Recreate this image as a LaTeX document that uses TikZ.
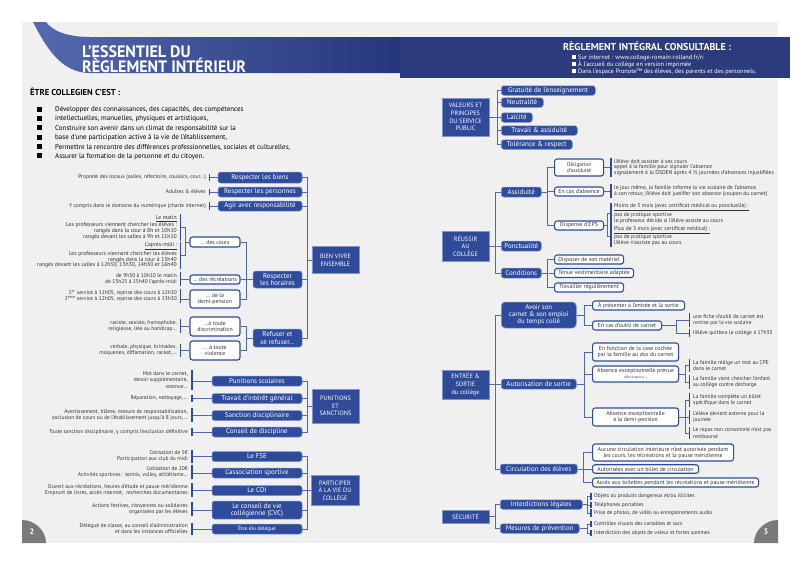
\documentclass[tikz,border=0pt]{standalone}
\usepackage{fontspec}
\setmainfont{PT Sans}
\newfontfamily\condf[FakeStretch=0.97]{PT Sans}
\usetikzlibrary{calc}
\definecolor{pagebg}{HTML}{F0F0F0}
\definecolor{hubblue}{HTML}{2E4A98}
\definecolor{nodeblue}{HTML}{2F4C9C}
\definecolor{hubedge}{HTML}{8194CF}
\definecolor{linkblue}{HTML}{5068B0}
\definecolor{txt}{HTML}{333333}
\definecolor{navy}{HTML}{2B3B7C}
\definecolor{ribL}{HTML}{5569AE}
\definecolor{ribR}{HTML}{26367A}
\definecolor{pgrey}{HTML}{7A7A7A}
\newcommand\fsz[2]{\fontsize{#1}{#2}\selectfont}
\newcommand\lnk[3]{\draw[conn] (#1) -| (#2 |- #3) -- (#3);}
\newcommand\lbar[2]{\draw[barl] (#1.north -| #2) -- (#1.south -| #2);}
\newcommand\llnk[4]{\draw[conn] (#1) -| (#2 |- #3) -- (#3 -| #4);}
\newcommand\slnk[2]{\draw[conn] (#1) -- (#1 -| #2);}
\tikzset{
  hub/.style={rectangle, fill=hubblue, draw=hubedge, line width=0.6pt, text=white, align=center, inner sep=0pt, font=\fsz{6.3}{7.6}},
  bn/.style={rectangle, rounded corners=2.5pt, fill=nodeblue, draw=hubedge, line width=0.5pt, text=white, align=center, inner sep=0pt, font=\fsz{7}{7.3}, minimum height=10},
  wb/.style={rectangle, rounded corners=2.5pt, fill=white, draw=nodeblue, line width=1.1pt, text=txt, align=center, inner sep=0pt, font=\fsz{5.8}{6.3}, minimum height=9},
  lr/.style={anchor=east, align=right, inner xsep=0pt, inner ysep=0.8pt, text=txt, font=\fsz{5.5}{6}},
  ll/.style={anchor=west, align=left, inner xsep=0pt, inner ysep=0.8pt, text=txt, font=\fsz{5.5}{6.3}},
  conn/.style={draw=linkblue, line width=0.7pt},
  barl/.style={draw=nodeblue, line width=1.3pt},
  bul/.style={anchor=base west, inner sep=0pt, font=\fsz{7}{7}},
}
\begin{document}
\begin{tikzpicture}[x=1pt,y=-1pt]
\useasboundingbox (0,0) rectangle (800,566);
\fill[white] (0,0) rectangle (800,566);
\fill[pagebg] (22,22) rectangle (778,543);
% header
\shade[left color=ribL, right color=ribR] (33,22) .. controls (45,45) and (60,73) .. (90,73) -- (400,73) -- (400,37) -- (90,37) .. controls (65,37) and (52,30) .. (46,22) -- cycle;
\fill[navy] (400,37) rectangle (790,78);
\node[anchor=base west, text=white, font=\condf\bfseries\fsz{16.5}{16}, inner sep=0pt] (t1) at (82,57) {L’ESSENTIEL DU};
\node[anchor=base west, text=white, font=\condf\bfseries\fsz{16.5}{16}, inner sep=0pt] (t2) at (82,72.5) {RÈGLEMENT INTÉRIEUR};
\node[anchor=base west, text=white, font=\bfseries\fsz{10}{10}, inner sep=0pt] (rh) at (563,50) {RÈGLEMENT INTÉGRAL CONSULTABLE :};
\fill[white] (572,54.7) rectangle (576,58.7);
\fill[white] (572,61.7) rectangle (576,65.7);
\fill[white] (572,69) rectangle (576,73);
\node[bul, text=white, font=\fsz{6.3}{7}] (rb1) at (578,59) {Sur internet : www.college-romain-rolland.fr/ri};
\node[bul, text=white, font=\fsz{6.3}{7}] (rb2) at (578,66) {À l’accueil du collège en version imprimée};
\node[bul, text=white, font=\fsz{6.3}{7}] (rb3) at (578,73.2) {Dans l’espace Pronote™ des élèves, des parents et des personnels.};
% etre collegien
\node[anchor=base west, font=\bfseries\fsz{8.6}{9}, inner sep=0pt] (ec) at (30,95.5) {ÊTRE COLLEGIEN C’EST :};
\foreach \yy in {109.3,118.3,127.7,137.3,146.7,155.7} {\fill[black] (37,\yy-2.4) rectangle (41.8,\yy+2.4);}
\node[bul] (bt1) at (55,111.7) {Développer des connaissances, des capacités, des compétences};
\node[bul] (bt2) at (55,120.7) {intellectuelles, manuelles, physiques et artistiques,};
\node[bul] (bt3) at (55,130.1) {Construire son avenir dans un climat de responsabilité sur la};
\node[bul] (bt4) at (55,139.7) {base d’une participation active à la vie de l’établissement,};
\node[bul] (bt5) at (55,149.1) {Permettre la rencontre des différences professionnelles, sociales et culturelles,};
\node[bul] (bt6) at (55,158.1) {Assurer la formation de la personne et du citoyen.};
% ---------- LEFT PAGE ----------
\coordinate (bL) at (307,0);
\coordinate (bH) at (246,0);
\coordinate (barA) at (209.5,0);
\coordinate (barB) at (180.5,0);
\coordinate (busB) at (185.5,0);
\coordinate (barC) at (192,0);
\node[hub, minimum width=47, minimum height=27] (bve) at (335.5,260) {BIEN VIVRE\\ENSEMBLE};
\node[hub, minimum width=47, minimum height=34] (pun) at (335.5,406) {PUNITIONS\\ET\\SANCTIONS};
\node[hub, minimum width=48, minimum height=30] (par) at (335,490.5) {PARTICIPER\\À LA VIE DU\\COLLÈGE};
\node[bn, minimum width=84, minimum height=11] (rlb) at (260,177.5) {Respecter les biens};
\node[bn, minimum width=84] (rlp) at (260,192) {Respecter les personnes};
\node[bn, minimum width=84] (aar) at (260,206) {Agir avec responsabilité};
\node[bn, minimum width=49, minimum height=17] (rlh) at (277.5,279.5) {Respecter\\les horaires};
\node[bn, minimum width=49, minimum height=18] (ref) at (277.5,338) {Refuser et\\se refuser…};
\node[bn, minimum width=90] (pn1) at (257,381) {Punitions scolaires};
\node[bn, minimum width=90] (pn2) at (257,398.5) {Travail d’intérêt général};
\node[bn, minimum width=90] (pn3) at (257,415.5) {Sanction disciplinaire};
\node[bn, minimum width=90] (pn4) at (257,432) {Conseil de discipline};
\node[bn, minimum width=90] (pa1) at (257,456.5) {Le FSE};
\node[bn, minimum width=90] (pa2) at (257,473) {L’association sportive};
\node[bn, minimum width=90] (pa3) at (257,490.5) {Le CDI};
\node[bn, minimum width=90, minimum height=18] (pa4) at (257,510) {Le conseil de vie\\collégienne (CVC)};
\node[bn, minimum width=90, font=\fsz{5.4}{5.5}] (pa5) at (257,529) {Être élu délégué};
\node[wb, minimum width=50, minimum height=10] (wco) at (215,242) {… des cours};
\node[wb, minimum width=50] (wre) at (215,279.5) {… des récréations};
\node[wb, minimum width=50, minimum height=18] (wdp) at (215,299) {… de la\\demi-pension};
\node[wb, minimum width=50, minimum height=19] (wdi) at (215,326.5) {…à toute\\discrimination};
\node[wb, minimum width=50, minimum height=19] (wvi) at (215,350.5) {… à toute\\violence};
% leaves left
\node[lr] (l1) at (206,177.5) {Propreté des locaux (salles, réfectoire, couloirs, cour…)};
\node[lr] (l2) at (206,192) {Adultes \& élèves};
\node[lr] (l3) at (206,206) {Y compris dans le domaine du numérique (charte internet)};
\node[lr, font=\fsz{5.7}{5.85}] (lm) at (177,227.5) {\underline{Le matin}\\Les professeurs viennent chercher les élèves :\\rangés dans la cour à 8h et 10h10\\rangés devant les salles à 9h et 11h10};
\node[lr, font=\fsz{5.7}{5.85}] (la) at (177,255.5) {\underline{L’après-midi :}\\Les professeurs viennent chercher les élèves\\rangés dans la cour à 15h40\\rangés devant les salles à 12h30, 13h30, 14h30 et 16h40};
\node[lr] (lre) at (177,279) {de 9h50 à 10h10 le matin\\de 15h25 à 15h40 l’après-midi};
\node[lr] (ldp) at (177,296) {1\textsuperscript{er} service à 11h05, reprise des cours à 12h30\\2\textsuperscript{ème} service à 12h05, reprise des cours à 13h30};
\node[lr] (ldi) at (177,326) {raciste, sexiste, homophobe,\\religieuse, liée au handicap…};
\node[lr] (lvi) at (177,350) {verbale, physique, brimades,\\moqueries, diffamation, racket,…};
\node[lr, font=\fsz{5.5}{6.8}] (lp1) at (188,380) {Mot dans le carnet,\\devoir supplémentaire,\\retenue…};
\node[lr] (lp2) at (188,398.5) {Réparation, nettoyage,…};
\node[lr] (lp3) at (188,415) {Avertissement, blâme, mesure de responsabilisation,\\exclusion de cours ou de l’établissement jusqu’à 8 jours,…};
\node[lr] (lp4) at (188,432) {Toute sanction disciplinaire, y compris l’exclusion définitive};
\node[lr] (lq1) at (188,456) {Cotisation de 5€\\Participation aux club du midi};
\node[lr] (lq2) at (188,472) {Cotisation de 20€\\Activités sportives : tennis, volley, athlétisme…};
\node[lr] (lq3) at (188,490) {Ouvert aux récréations, heures d’étude et pause méridienne\\Emprunt de livres, accès internet,\ \ recherches documentaires};
\node[lr] (lq4) at (188,509) {Actions festives, citoyennes ou solidaires\\organisées par les élèves};
\node[lr] (lq5) at (188,529) {Délégué de classe, au conseil d’administration\\et dans les instances officielles};
% left connectors
\lnk{bve.west}{bL}{rlb.east}
\lnk{bve.west}{bL}{rlp.east}
\lnk{bve.west}{bL}{aar.east}
\lnk{bve.west}{bL}{rlh.east}
\lnk{bve.west}{bL}{ref.east}
\lnk{pun.west}{bL}{pn1.east}
\lnk{pun.west}{bL}{pn2.east}
\lnk{pun.west}{bL}{pn3.east}
\lnk{pun.west}{bL}{pn4.east}
\lnk{par.west}{bL}{pa1.east}
\lnk{par.west}{bL}{pa2.east}
\lnk{par.west}{bL}{pa3.east}
\lnk{par.west}{bL}{pa4.east}
\lnk{par.west}{bL}{pa5.east}
\lnk{rlh.west}{bH}{wco.east}
\lnk{rlh.west}{bH}{wre.east}
\lnk{rlh.west}{bH}{wdp.east}
\lnk{ref.west}{bH}{wdi.east}
\lnk{ref.west}{bH}{wvi.east}
\slnk{rlb.west}{barA}
\slnk{rlp.west}{barA}
\slnk{aar.west}{barA}
\lbar{l1}{barA}
\lbar{l2}{barA}
\lbar{l3}{barA}
\llnk{wco.west}{busB}{lm.east}{barB}
\llnk{wco.west}{busB}{la.east}{barB}
\slnk{wre.west}{barB}
\slnk{wdp.west}{barB}
\slnk{wdi.west}{barB}
\slnk{wvi.west}{barB}
\lbar{lm}{barB}
\lbar{la}{barB}
\lbar{lre}{barB}
\lbar{ldp}{barB}
\lbar{ldi}{barB}
\lbar{lvi}{barB}
\foreach \n in {pn1,pn2,pn3,pn4,pa1,pa2,pa3,pa4,pa5} {\slnk{\n.west}{barC}}
\foreach \n in {lp1,lp2,lp3,lp4,lq1,lq2,lq3,lq4,lq5} {\lbar{\n}{barC}}
% ---------- RIGHT PAGE ----------
\coordinate (bV) at (497,0);
\coordinate (bR) at (495,0);
\coordinate (bA) at (547,0);
\coordinate (barR) at (611,0);
\coordinate (busD) at (607,0);
\coordinate (bE) at (584,0);
\coordinate (bO) at (676,0);
\coordinate (barO) at (689.5,0);
\coordinate (bX) at (685,0);
\coordinate (bC) at (583,0);
\coordinate (bS) at (587,0);
\coordinate (barS) at (591,0);
\node[hub, minimum width=47, minimum height=38] (val) at (465.5,117) {VALEURS ET\\PRINCIPES\\DU SERVICE\\PUBLIC};
\node[hub, minimum width=47, minimum height=30] (reu) at (465.5,246) {RÉUSSIR\\AU\\COLLÈGE};
\node[hub, minimum width=47, minimum height=29] (ent) at (465.5,384.5) {ENTRÉE \&\\SORTIE\\du collège};
\node[hub, minimum width=47, minimum height=13] (sec) at (465.5,516.5) {SÉCURITÉ};
\node[bn, anchor=west, minimum width=94, minimum height=9.5] (v1) at (501,90.5) {Gratuité de l’enseignement};
\node[bn, anchor=west, minimum width=42, minimum height=9.5] (v2) at (501,102.5) {Neutralité};
\node[bn, anchor=west, minimum width=31, minimum height=9.5] (v3) at (501,117.5) {Laïcité};
\node[bn, anchor=west, minimum width=76, minimum height=9.5] (v4) at (501,130.5) {Travail \& assiduité};
\node[bn, anchor=west, minimum width=71, minimum height=9.5] (v5) at (501,144.5) {Tolérance \& respect};
\node[bn, anchor=west, minimum width=40] (r1) at (501,192) {Assiduité};
\node[bn, anchor=west, minimum width=40] (r2) at (501,246) {Ponctualité};
\node[bn, anchor=west, minimum width=40] (r3) at (501,273) {Conditions};
\node[wb, anchor=west, minimum width=49, minimum height=17, font=\fsz{5.4}{6}] (a1) at (554,167.5) {Obligation\\d’assiduité};
\node[wb, anchor=west, minimum width=49] (a2) at (554,191.5) {En cas d’absence};
\node[wb, anchor=west, minimum width=49] (a3) at (554,225.5) {Dispense d’EPS};
\node[wb, anchor=west, minimum width=69] (c1) at (554,259.5) {Disposer de son matériel};
\node[wb, anchor=west, minimum width=79] (c2) at (554,273) {Tenue vestimentaire adaptée};
\node[wb, anchor=west, minimum width=69] (c3) at (554,287.5) {Travailler régulièrement};
\node[bn, anchor=west, minimum width=75, minimum height=26, rounded corners=4pt, font=\fsz{6.8}{7}] (e1) at (501,315) {Avoir son\\carnet \& son emploi\\du temps collé};
\node[bn, anchor=west, minimum width=75] (e2) at (501,384) {Autorisation de sortie};
\node[bn, anchor=west, minimum width=77] (e3) at (500,469) {Circulation des élèves};
\node[bn, anchor=west, minimum width=82, minimum height=9.5] (s1) at (500,504.5) {Interdictions légales};
\node[bn, anchor=west, minimum width=79, minimum height=9.5] (s2) at (500,528.5) {Mesures de prévention};
\node[wb, anchor=west, minimum width=92] (e1a) at (592,305.5) {À présenter à l’entrée et la sortie};
\node[wb, anchor=west, minimum width=69] (e1b) at (592,325.5) {En cas d’oubli de carnet};
\node[wb, anchor=west, minimum width=86, minimum height=18] (e2a) at (592,352) {En fonction de la case cochée\\par la famille au dos du carnet};
\node[wb, anchor=west, minimum width=86, minimum height=16, font=\fsz{5.8}{5.5}] (e2b) at (592,374) {Absence exceptionnelle prévue\\{\fsz{3.2}{3.2}(RDV extérieur…)}};
\node[wb, anchor=west, minimum width=86, minimum height=18] (e2c) at (592,417) {Absence exceptionnelle\\à la demi-pension};
\node[wb, anchor=west, minimum width=141, minimum height=17, font=\fsz{5.8}{6}] (e3a) at (592,452.5) {Aucune circulation intérieure n’est autorisée pendant\\les cours, les récréations et la pause méridienne};
\node[wb, anchor=west, minimum width=106, minimum height=8.5] (e3b) at (592,469) {Autorisées avec un billet de circulation};
\node[wb, anchor=west, minimum width=166] (e3c) at (592,482.5) {Accès aux toilettes pendant les récréations et pause méridienne};
% right leaves
\node[ll, font=\fsz{5.6}{5.8}] (o1) at (614,167.5) {l’élève doit assister à ses cours\\appel à la famille pour signaler l’absence\\signalement à la DSDEN après 4 ½ journées d’absences injustifiées};
\node[ll, font=\fsz{5.6}{6}] (o2) at (614,191) {le jour même, la famille informe la vie scolaire de l’absence\\à son retour, l’élève doit justifier son absence (coupon du carnet)};
\node[ll, font=\fsz{5.6}{6.4}] (o3) at (614,213.7) {\underline{Moins de 3 mois (avec certificat médical ou ponctuelle) :}\\pas de pratique sportive\\le professeur décide si l’élève assiste au cours};
\node[ll, font=\fsz{5.6}{6.4}] (o4) at (614,236) {\underline{Plus de 3 mois (avec certificat médical) :}\\pas de pratique sportive\\l’élève n’assiste pas au cours};
\node[ll] (k1) at (693,320) {une fiche d’oubli de carnet est\\remise par la vie scolaire};
\node[ll] (k2) at (693,333) {l’élève quittera le collège à 17h35};
\node[ll] (x1) at (693,365.5) {La famille rédige un mot au CPE\\dans le carnet};
\node[ll] (x2) at (693,382) {La famille vient chercher l’enfant\\au collège contre décharge};
\node[ll] (x3) at (693,400) {La famille complète un billet\\spécifique dans le carnet};
\node[ll] (x4) at (693,417) {L’élève devient externe pour la\\journée};
\node[ll] (x5) at (693,433) {Le repas non consommé n’est pas\\remboursé};
\node[ll, font=\fsz{5.4}{6}] (sl1) at (594,496) {Objets ou produits dangereux et/ou illicites};
\node[ll, font=\fsz{5.4}{6}] (sl2) at (594,505) {Téléphones portables};
\node[ll, font=\fsz{5.4}{6}] (sl3) at (594,513) {Prise de photos, de vidéo ou enregistrements audio};
\node[ll, font=\fsz{5.4}{6}] (sl4) at (594,524) {Contrôles visuels des cartables et sacs};
\node[ll, font=\fsz{5.4}{6}] (sl5) at (594,533) {Interdiction des objets de valeur et fortes sommes};
% right connectors
\foreach \n in {v1,v2,v3,v4,v5} {\lnk{val.east}{bV}{\n.west}}
\foreach \n in {r1,r2,r3} {\lnk{reu.east}{bR}{\n.west}}
\foreach \n in {e1,e2,e3} {\lnk{ent.east}{bR}{\n.west}}
\foreach \n in {s1,s2} {\lnk{sec.east}{bR}{\n.west}}
\foreach \n in {a1,a2,a3} {\lnk{r1.east}{bA}{\n.west}}
\foreach \n in {c1,c2,c3} {\lnk{r3.east}{bA}{\n.west}}
\foreach \n in {e1a,e1b} {\lnk{e1.east}{bE}{\n.west}}
\foreach \n in {e2a,e2b,e2c} {\lnk{e2.east}{bE}{\n.west}}
\foreach \n in {e3a,e3b,e3c} {\lnk{e3.east}{bC}{\n.west}}
\slnk{a1.east}{barR}
\slnk{a2.east}{barR}
\llnk{a3.east}{busD}{o3.west}{barR}
\llnk{a3.east}{busD}{o4.west}{barR}
\foreach \n in {o1,o2,o3,o4} {\lbar{\n}{barR}}
\llnk{e1b.east}{bO}{k1.west}{barO}
\llnk{e1b.east}{bO}{k2.west}{barO}
\llnk{e2b.east}{bX}{x1.west}{barO}
\llnk{e2b.east}{bX}{x2.west}{barO}
\llnk{e2c.east}{bX}{x3.west}{barO}
\llnk{e2c.east}{bX}{x4.west}{barO}
\llnk{e2c.east}{bX}{x5.west}{barO}
\foreach \n in {k1,k2,x1,x2,x3,x4,x5} {\lbar{\n}{barO}}
\foreach \n in {sl1,sl2,sl3} {\llnk{s1.east}{bS}{\n.west}{barS}}
\foreach \n in {sl4,sl5} {\llnk{s2.east}{bS}{\n.west}{barS}}
\foreach \n in {sl1,sl2,sl3,sl4,sl5} {\lbar{\n}{barS}}
% page numbers
\fill[pgrey] (22,520) .. controls (35.2,520) and (46,530.8) .. (46,543) -- (22,543) -- cycle;
\fill[pgrey] (778,520) .. controls (764.8,520) and (754,530.8) .. (754,543) -- (778,543) -- cycle;
\node[text=white, font=\bfseries\fsz{8}{8}, inner sep=0pt] (pg2) at (32,532) {2};
\node[text=white, font=\bfseries\fsz{8}{8}, inner sep=0pt] (pg3) at (766,532) {3};
\end{tikzpicture}
\end{document}
